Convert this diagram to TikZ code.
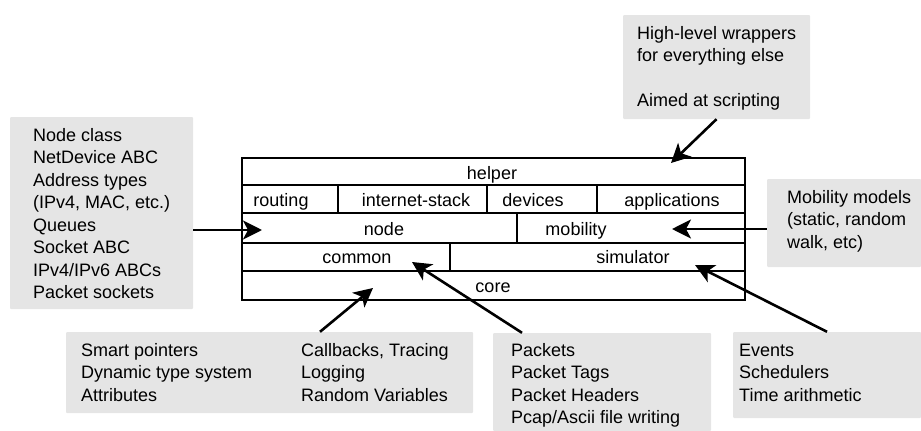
\documentclass[tikz,border=0pt]{standalone}
\usepackage{fontspec}
\setmainfont{Liberation Sans}
\usetikzlibrary{arrows.meta}

\tikzset{
  note/.style={fill=black!10, draw=none, rounded corners=1pt, inner sep=0pt},
  txt/.style={anchor=base west, inner sep=0pt, font=\fontsize{18}{22.5}\selectfont},
  lbl/.style={anchor=base, inner sep=0pt, font=\fontsize{18}{22.5}\selectfont},
  frame/.style={line width=2.6pt},
  pointer/.style={line width=2.6pt, -{Stealth[length=19pt, width=19pt, inset=5pt]}},
}

\begin{document}
\begin{tikzpicture}[x=1pt, y=-1pt]
\useasboundingbox (0,0) rectangle (921,431);

% ---- grey description boxes ----
\node[note, minimum width=187pt, minimum height=104pt] (wrapnote) at (716.5,67) {};
\node[note, minimum width=183pt, minimum height=192pt] (nodenote) at (101.5,213) {};
\node[note, minimum width=154pt, minimum height=88pt]  (mobnote)  at (844,223) {};
\node[note, minimum width=407pt, minimum height=81pt]  (corenote) at (269.5,372.5) {};
\node[note, minimum width=218pt, minimum height=98pt]  (pktnote)  at (602,382) {};
\node[note, minimum width=188pt, minimum height=86pt]  (simnote)  at (827,375) {};

% ---- texts of the grey boxes ----
\node[txt] (w1) at (637,39) {High-level wrappers};
\node[txt] (w2) at (637,61.5) {for everything else};
\node[txt] (w3) at (637,106.5) {Aimed at scripting};

\foreach \t [count=\i from 0] in {Node class, NetDevice ABC, Address types,
    {(IPv4, MAC, etc.)}, Queues, Socket ABC, IPv4/IPv6 ABCs, Packet sockets}
  \node[txt] (n\i) at (33,141+22.5*\i) {\t};

\node[txt] (m1) at (787,203) {Mobility models};
\node[txt] (m2) at (787,225.5) {(static, random};
\node[txt] (m3) at (787,248) {walk, etc)};

\node[txt] (c1) at (81,356) {Smart pointers};
\node[txt] (c2) at (81,378.5) {Dynamic type system};
\node[txt] (c3) at (81,401) {Attributes};
\node[txt] (c4) at (301,356) {Callbacks, Tracing};
\node[txt] (c5) at (301,378.5) {Logging};
\node[txt] (c6) at (301,401) {Random Variables};

\node[txt] (p1) at (511,356) {Packets};
\node[txt] (p2) at (511,378.5) {Packet Tags};
\node[txt] (p3) at (511,401) {Packet Headers};
\node[txt] (p4) at (511,423.5) {Pcap/Ascii file writing};

\node[txt] (s1) at (739,356) {Events};
\node[txt] (s2) at (739,378.5) {Schedulers};
\node[txt] (s3) at (739,401) {Time arithmetic};

% ---- module stack ----
\draw[frame] (242,158) rectangle (745,300);
\draw[frame] (242,185) -- (745,185);
\draw[frame] (242,213) -- (745,213);
\draw[frame] (242,243) -- (745,243);
\draw[frame] (242,271) -- (745,271);
\draw[frame] (338,185) -- (338,213);
\draw[frame] (487,185) -- (487,213);
\draw[frame] (597,185) -- (597,213);
\draw[frame] (517,213) -- (517,243);
\draw[frame] (450,243) -- (450,271);

\node[lbl] (helper) at (492,179) {helper};
\node[lbl] (routing) at (281,206.5) {routing};
\node[lbl] (inet) at (416,206.5) {internet-stack};
\node[lbl] (devices) at (533,206.5) {devices};
\node[lbl] (apps) at (672,206.5) {applications};
\node[lbl] (node) at (384,235.5) {node};
\node[lbl] (mobility) at (576,235.5) {mobility};
\node[lbl] (common) at (357,263.5) {common};
\node[lbl] (simulator) at (633,263.5) {simulator};
\node[lbl] (core) at (493,292) {core};

% ---- arrow targets inside the stack ----
\coordinate (tHelper) at (671,163);
\coordinate (tNode) at (262,230);
\coordinate (tMob) at (672,229);
\coordinate (tCore) at (373,288);
\coordinate (tCommon) at (412,262);
\coordinate (tSim) at (695,265);

% ---- pointers ----
\draw[pointer] (wrapnote.south) -- (tHelper);
\draw[pointer] (nodenote.east |- tNode) -- (tNode);
\draw[pointer] (mobnote.west |- tMob) -- (tMob);
\draw[pointer] ([xshift=50.5pt]corenote.north) -- (tCore);
\draw[pointer] ([xshift=-80pt]pktnote.north) -- (tCommon);
\draw[pointer] (simnote.north) -- (tSim);
\end{tikzpicture}
\end{document}
